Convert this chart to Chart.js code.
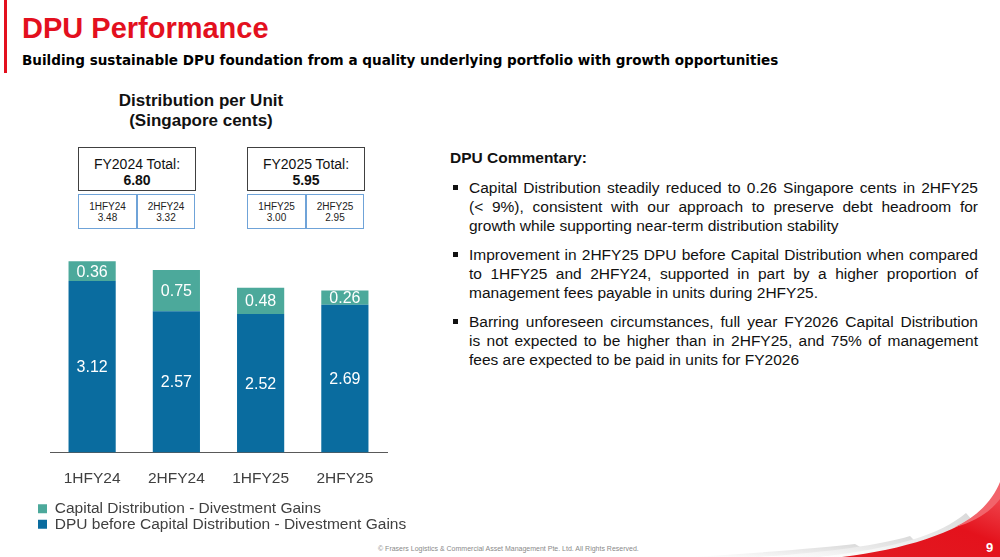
<!DOCTYPE html>
<html>
<head>
<meta charset="utf-8">
<script src="https://cdn.jsdelivr.net/npm/chart.js@4.4.0/dist/chart.umd.min.js"></script>
<style>
  body { margin: 0; background: #fff; font-family: "Liberation Sans", Arial, sans-serif; }
  #page { position: relative; width: 1000px; height: 557px; overflow: hidden; }
  #swoosh { position: absolute; left: 0; top: 0; }
  .redbar { position: absolute; left: 4px; top: 0; width: 3px; height: 73px; background: #e3101e; }
  h1 { position: absolute; left: 22px; top: 11px; margin: 0; font-size: 29px; line-height: 34px; color: #e3101e; font-weight: bold; }
  .sub { position: absolute; left: 22px; top: 51px; font-family: "DejaVu Sans", sans-serif; font-size: 13.55px; line-height: 18px; font-weight: bold; color: #000; white-space: nowrap; }
  .ctitle { position: absolute; left: 100px; width: 202px; top: 91px; text-align: center; font-size: 17px; line-height: 20px; font-weight: bold; color: #111; }
  .fybox { position: absolute; top: 147px; height: 44px; border: 1px solid #404040; box-sizing: border-box; text-align: center; color: #111; font-size: 14px; line-height: 16px; padding-top: 8px; }
  .fybox b { display: block; font-size: 14px; }
  .hbox { position: absolute; top: 194px; height: 35px; border: 1px solid #6fa3d8; box-sizing: border-box; text-align: center; color: #222; font-size: 10px; line-height: 10.5px; padding-top: 7px; }
  #chartWrap { position: absolute; left: 0; top: 250px; width: 430px; height: 292px; }
  .comm { position: absolute; left: 450px; top: 148px; width: 528px; color: #111; }
  .comm h3 { margin: 0; font-size: 15.5px; line-height: 19px; font-weight: bold; }
  .comm ul { list-style: none; margin: 11px 0 0 0; padding: 0; }
  .comm li { position: relative; padding-left: 19px; font-size: 15.5px; line-height: 19px; text-align: justify; margin-bottom: 10px; }
  .comm li::before { content: ""; position: absolute; left: 3px; top: 7px; width: 5px; height: 5px; background: #111; }
  .comm .jl { display: block; text-align-last: justify; }
  .foot { position: absolute; left: 378px; top: 545px; font-size: 7px; color: #8a8a8a; white-space: nowrap; }
  .pnum { position: absolute; left: 986px; top: 540px; font-size: 13px; font-weight: bold; color: #fff; }
</style>
</head>
<body>
<div id="page">
  <svg id="swoosh" width="1000" height="557">
    <defs>
      <linearGradient id="redGrad" x1="0" y1="1" x2="1" y2="0">
        <stop offset="0" stop-color="#e21a22"/>
        <stop offset="0.6" stop-color="#e4121c"/>
        <stop offset="1" stop-color="#f04850"/>
      </linearGradient>
      <linearGradient id="greyGrad" x1="0" y1="1" x2="1" y2="0">
        <stop offset="0" stop-color="#ffffff"/>
        <stop offset="1" stop-color="#d9d9d9"/>
      </linearGradient>
    </defs>
    <path d="M690,557 C760,553 820,548 855,544 L862,548 C830,553 790,556 760,557 Z" fill="url(#greyGrad)"/>
    <path d="M760,557 C830,552 880,545 910,536 L915,541 C890,549 850,555 820,557 Z" fill="url(#greyGrad)"/>
    <path d="M820,557 C895,548 940,535 966,513 L973,521 C945,540 905,552 860,557 Z" fill="url(#greyGrad)"/>
    <path d="M842,557 C915,548 972,528 1000,494 L1000,557 Z" fill="url(#redGrad)"/>
    <path d="M955,527 C976,517 992,502 1000,482 L1000,499 C990,512 975,522 955,527 Z" fill="#f2646b"/>
  </svg>
  <div class="redbar"></div>
  <h1>DPU Performance</h1>
  <div class="sub">Building sustainable DPU foundation from a quality underlying portfolio with growth opportunities</div>
  <div class="ctitle">Distribution per Unit<br>(Singapore cents)</div>
  <div id="boxes"></div>
  <div id="chartWrap"><canvas id="dpuChart"></canvas></div>
  <div class="comm">
    <h3>DPU Commentary:</h3>
    <ul>
      <li>Capital Distribution steadily reduced to 0.26 Singapore cents in 2HFY25 (&lt; 9%), consistent with our approach to preserve debt headroom for growth while supporting near-term distribution stability</li>
      <li>Improvement in 2HFY25 DPU before Capital Distribution when compared to 1HFY25 and 2HFY24, supported in part by a higher proportion of management fees payable in units during 2HFY25.</li>
      <li><span class="jl">Barring unforeseen circumstances, full year FY2026 Capital Distribution</span>is not expected to be higher than in 2HFY25, and 75% of management fees are expected to be paid in units for FY2026</li>
    </ul>
  </div>
  <div class="foot">© Frasers Logistics &amp; Commercial Asset Management Pte. Ltd. All Rights Reserved.</div>
  <div class="pnum">9</div>
</div>
<script>
const categories = ["1HFY24", "2HFY24", "1HFY25", "2HFY25"];
const dpuBeforeCapital = [3.12, 2.57, 2.52, 2.69];
const capitalDistribution = [0.36, 0.75, 0.48, 0.26];
const halfYearTotals = ["3.48", "3.32", "3.00", "2.95"];
const fiscalYears = ["FY2024", "FY2025"];
const fiscalTotals = ["6.80", "5.95"];
const seriesNames = [
  "DPU before Capital Distribution - Divestment Gains",
  "Capital Distribution - Divestment Gains"
];

const darkBlue = "#0a6c9f";
const teal = "#4ca99b";

// summary boxes above the bars
const fyLeft = [78, 247];
const halfLeft = [[78, 137], [247, 306]];
let html = "";
fiscalYears.forEach((fy, i) => {
  html += '<div class="fybox" style="left:' + fyLeft[i] + 'px;width:118px">' + fy + ' Total:<b>' + fiscalTotals[i] + '</b></div>';
  halfLeft[i].forEach((x, k) => {
    const n = i * 2 + k;
    html += '<div class="hbox" style="left:' + x + 'px;width:' + (k ? 58 : 59) + 'px">' + categories[n] + '<br>' + halfYearTotals[n] + '</div>';
  });
});
document.getElementById("boxes").innerHTML = html;

// values written in the middle of each bar segment
const barValueLabels = {
  id: "barValueLabels",
  afterDatasetsDraw(chart) {
    const ctx = chart.ctx;
    ctx.save();
    ctx.font = '16px "Liberation Sans", Arial, sans-serif';
    ctx.fillStyle = "#ffffff";
    ctx.textAlign = "center";
    ctx.textBaseline = "middle";
    chart.data.datasets.forEach((ds, i) => {
      chart.getDatasetMeta(i).data.forEach((bar, j) => {
        const p = bar.getProps(["x", "y", "base"], true);
        ctx.fillText(ds.data[j].toFixed(2), p.x, (p.y + p.base) / 2 + 1);
      });
    });
    ctx.restore();
  }
};

new Chart(document.getElementById("dpuChart"), {
  type: "bar",
  data: {
    labels: categories,
    datasets: [
      { label: seriesNames[0], data: dpuBeforeCapital, backgroundColor: darkBlue },
      { label: seriesNames[1], data: capitalDistribution, backgroundColor: teal }
    ]
  },
  options: {
    responsive: true,
    maintainAspectRatio: false,
    animation: false,
    layout: { padding: { left: 38, right: 0, top: 2, bottom: 0 } },
    datasets: { bar: { categoryPercentage: 1, barPercentage: 0.56 } },
    scales: {
      x: {
        stacked: true,
        grid: { display: false },
        border: { display: true, color: "#595959", width: 1 },
        ticks: { color: "#404040", padding: 9, font: { family: "Liberation Sans", size: 15.5 } },
        afterFit: (scale) => { scale.height += 4; }
      },
      y: {
        stacked: true,
        min: 0,
        max: 3.65,
        grid: { display: false },
        border: { display: false },
        ticks: { display: false },
        afterFit: (scale) => { scale.width = 12; }
      },
      // empty spacer on the right so the legend can be wider than the plot
      yRight: {
        type: "linear",
        position: "right",
        grid: { display: false },
        border: { display: false },
        ticks: { display: false },
        afterFit: (scale) => { scale.width = 43; }
      }
    },
    plugins: {
      tooltip: { enabled: false },
      legend: {
        position: "bottom",
        align: "start",
        reverse: true,
        labels: {
          boxWidth: 9,
          boxHeight: 9,
          padding: 0,
          color: "#404040",
          font: { family: "Liberation Sans", size: 15.5 }
        }
      }
    }
  },
  plugins: [barValueLabels]
});
</script>
</body>
</html>
